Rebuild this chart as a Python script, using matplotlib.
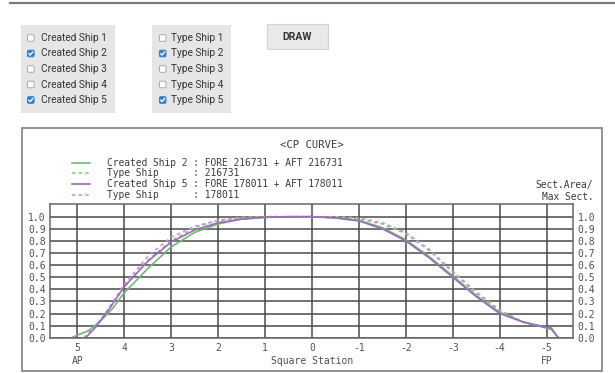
import numpy as np
import matplotlib
matplotlib.use("Agg")
import matplotlib.pyplot as plt
from matplotlib.patches import FancyBboxPatch, Rectangle

# checkbox panels
created_labels = ["Created Ship 1", "Created Ship 2", "Created Ship 3", "Created Ship 4", "Created Ship 5"]
type_labels = ["Type Ship 1", "Type Ship 2", "Type Ship 3", "Type Ship 4", "Type Ship 5"]
checked = [False, True, False, False, True]

# CP curve data (square station vs sect.area / max sect.)
x_cs2 = [5.12, 5.0, 4.75, 4.5, 4.25, 4.0, 3.5, 3.0, 2.5, 2.0, 1.5, 1.0, 0.5, 0.0,
         -0.5, -1.0, -1.5, -2.0, -2.5, -3.0, -3.5, -4.0, -4.5, -5.0, -5.1, -5.25]
y_cs2 = [0.0, 0.02, 0.06, 0.14, 0.24, 0.37, 0.57, 0.75, 0.87, 0.94, 0.98, 0.995, 1.0, 1.0,
         0.99, 0.97, 0.91, 0.81, 0.67, 0.51, 0.35, 0.21, 0.13, 0.08, 0.07, 0.0]

x_ts2 = [4.85, 4.6, 4.35, 4.0, 3.5, 3.0, 2.5, 2.0, 1.5, 1.0, 0.5, 0.0, -0.5, -1.0,
         -1.5, -2.0, -2.5, -3.0, -3.5, -4.0, -4.5, -5.0, -5.1, -5.25]
y_ts2 = [0.0, 0.1, 0.22, 0.42, 0.64, 0.80, 0.91, 0.97, 0.995, 1.0, 1.0, 1.0, 1.0, 0.99,
         0.95, 0.87, 0.73, 0.55, 0.38, 0.23, 0.13, 0.08, 0.075, 0.0]

x_cs5 = [4.82, 4.6, 4.35, 4.0, 3.5, 3.0, 2.5, 2.0, 1.5, 1.0, 0.5, 0.0, -0.5, -1.0,
         -1.5, -2.0, -2.5, -3.0, -3.5, -4.0, -4.5, -5.0, -5.1, -5.25]
y_cs5 = [0.0, 0.09, 0.22, 0.42, 0.63, 0.79, 0.89, 0.95, 0.98, 0.995, 1.0, 1.0, 0.99, 0.965,
         0.9, 0.80, 0.66, 0.50, 0.34, 0.20, 0.13, 0.085, 0.08, 0.0]

x_ts5 = [4.85, 4.6, 4.35, 4.0, 3.5, 3.0, 2.5, 2.0, 1.5, 1.0, 0.5, 0.0, -0.5, -1.0,
         -1.5, -2.0, -2.5, -3.0, -3.5, -4.0, -4.5, -5.0, -5.1, -5.25]
y_ts5 = [0.0, 0.1, 0.23, 0.44, 0.67, 0.83, 0.92, 0.97, 0.99, 1.0, 1.0, 1.0, 0.995, 0.98,
         0.94, 0.86, 0.72, 0.54, 0.37, 0.22, 0.13, 0.08, 0.075, 0.0]

legend_rows = ["Created Ship 2 : FORE 216731 + AFT 216731",
               "Type Ship      : 216731",
               "Created Ship 5 : FORE 178011 + AFT 178011",
               "Type Ship      : 178011"]

stations = [5, 4, 3, 2, 1, 0, -1, -2, -3, -4, -5]

green = "#72b872"
green_d = "#86c886"
purple = "#9c6cbc"
purple_d = "#c994d8"
mono = "DejaVu Sans Mono"
txtc = "#3c3c3c"

W, H = 615, 373
fig = plt.figure(figsize=(W / 100, H / 100), dpi=100)

# background axes in pixel coords for the UI bits
bg = fig.add_axes([0, 0, 1, 1])
bg.set_xlim(0, W)
bg.set_ylim(H, 0)
bg.axis("off")

bg.plot([10, W], [2.7, 2.7], color="#7a7a7a", lw=1.6)

def checkbox(x, y, on):
    fc = "#2f7fd8" if on else "white"
    ec = "#2f7fd8" if on else "#aaaaaa"
    bg.add_patch(FancyBboxPatch((x - 3.3, y - 3.3), 6.6, 6.6,
                                boxstyle="round,pad=0,rounding_size=1.3",
                                fc=fc, ec=ec, lw=0.7))
    if on:
        bg.plot([x - 2.0, x - 0.6, x + 2.1], [y + 0.1, y + 1.6, y - 1.7],
                color="white", lw=1.0, solid_capstyle="round")

row_y = [38, 53.5, 69, 84.5, 100]
for px0, px1, bx, tx, labels in [(20.7, 115, 30.8, 40.7, created_labels),
                                 (151.7, 230.7, 162.7, 171, type_labels)]:
    bg.add_patch(Rectangle((px0, 25), px1 - px0, 88.3, fc="#e6e6e6", ec="none"))
    for yy, lab, on in zip(row_y, labels, checked):
        checkbox(bx, yy, on)
        bg.text(tx, yy, lab, fontsize=7.3, family="Roboto", color="#333333",
                va="center", ha="left")

# DRAW button
bg.add_patch(Rectangle((266.7, 24), 61, 25, fc="#e9e9e9", ec="#d2d2d2", lw=0.8))
bg.text(297.2, 36.5, "DRAW", fontsize=7.5, family="Roboto", weight="bold",
        color="#333333", ha="center", va="center")

# chart frame
bg.add_patch(Rectangle((21.7, 128.3), 580, 242.4, fc="white", ec="#8a8a8a", lw=1.3))
bg.text(311.5, 145.5, "<CP CURVE>", fontsize=7.6, family=mono, color=txtc,
        ha="center", va="center")

leg_y = [162.5, 173.2, 184, 195]
leg_style = [(green, "-"), (green_d, (0, (2, 2))), (purple, "-"), (purple_d, (0, (2, 2)))]
for yy, txt, (c, ls) in zip(leg_y, legend_rows, leg_style):
    bg.plot([71.7, 90], [yy, yy], color=c, ls=ls, lw=1.2)
    bg.text(107.3, yy, txt, fontsize=6.9, family=mono, color=txtc,
            ha="left", va="center")

bg.text(593.3, 185, "Sect.Area/", fontsize=6.9, family=mono, color=txtc,
        ha="right", va="center")
bg.text(593.3, 197.3, "Max Sect.", fontsize=6.9, family=mono, color=txtc,
        ha="right", va="center")

# plot area
ax = fig.add_axes([50 / W, 1 - 337.7 / H, 523.3 / W, 133.7 / H])
ax.set_xlim(5.58, -5.57)
ax.set_ylim(0, 1.105)

ax.plot(x_ts2, y_ts2, color=green_d, ls=(0, (2, 2)), lw=1.2)
ax.plot(x_ts5, y_ts5, color=purple_d, ls=(0, (2, 2)), lw=1.2)
ax.plot(x_cs2, y_cs2, color=green, lw=1.2)
ax.plot(x_cs5, y_cs5, color=purple, lw=1.2)

ax.set_xticks(stations)
ax.set_xticklabels([str(s) for s in stations])
yt = np.round(np.arange(0, 1.01, 0.1), 1)
ax.set_yticks(yt)
ax.set_yticklabels([f"{v:.1f}" for v in yt])
ax.grid(True, color="#4a4a4a", lw=1.1)
ax.set_axisbelow(True)
ax.tick_params(length=0, labelsize=7, labelcolor="#505050", pad=3,
               labelright=True, labelleft=True)
ax.tick_params(axis="x", pad=4)
for lab in ax.get_xticklabels() + ax.get_yticklabels():
    lab.set_family(mono)
for s in ax.spines.values():
    s.set_color("#666666")
    s.set_linewidth(1.1)

bg.text(77.7, 360.5, "AP", fontsize=7, family=mono, color="#505050", ha="center", va="center")
bg.text(546.7, 360.5, "FP", fontsize=7, family=mono, color="#505050", ha="center", va="center")
bg.text(312, 360.5, "Square Station", fontsize=7, family=mono, color="#505050",
        ha="center", va="center")

fig.savefig("out.png", dpi=100)
